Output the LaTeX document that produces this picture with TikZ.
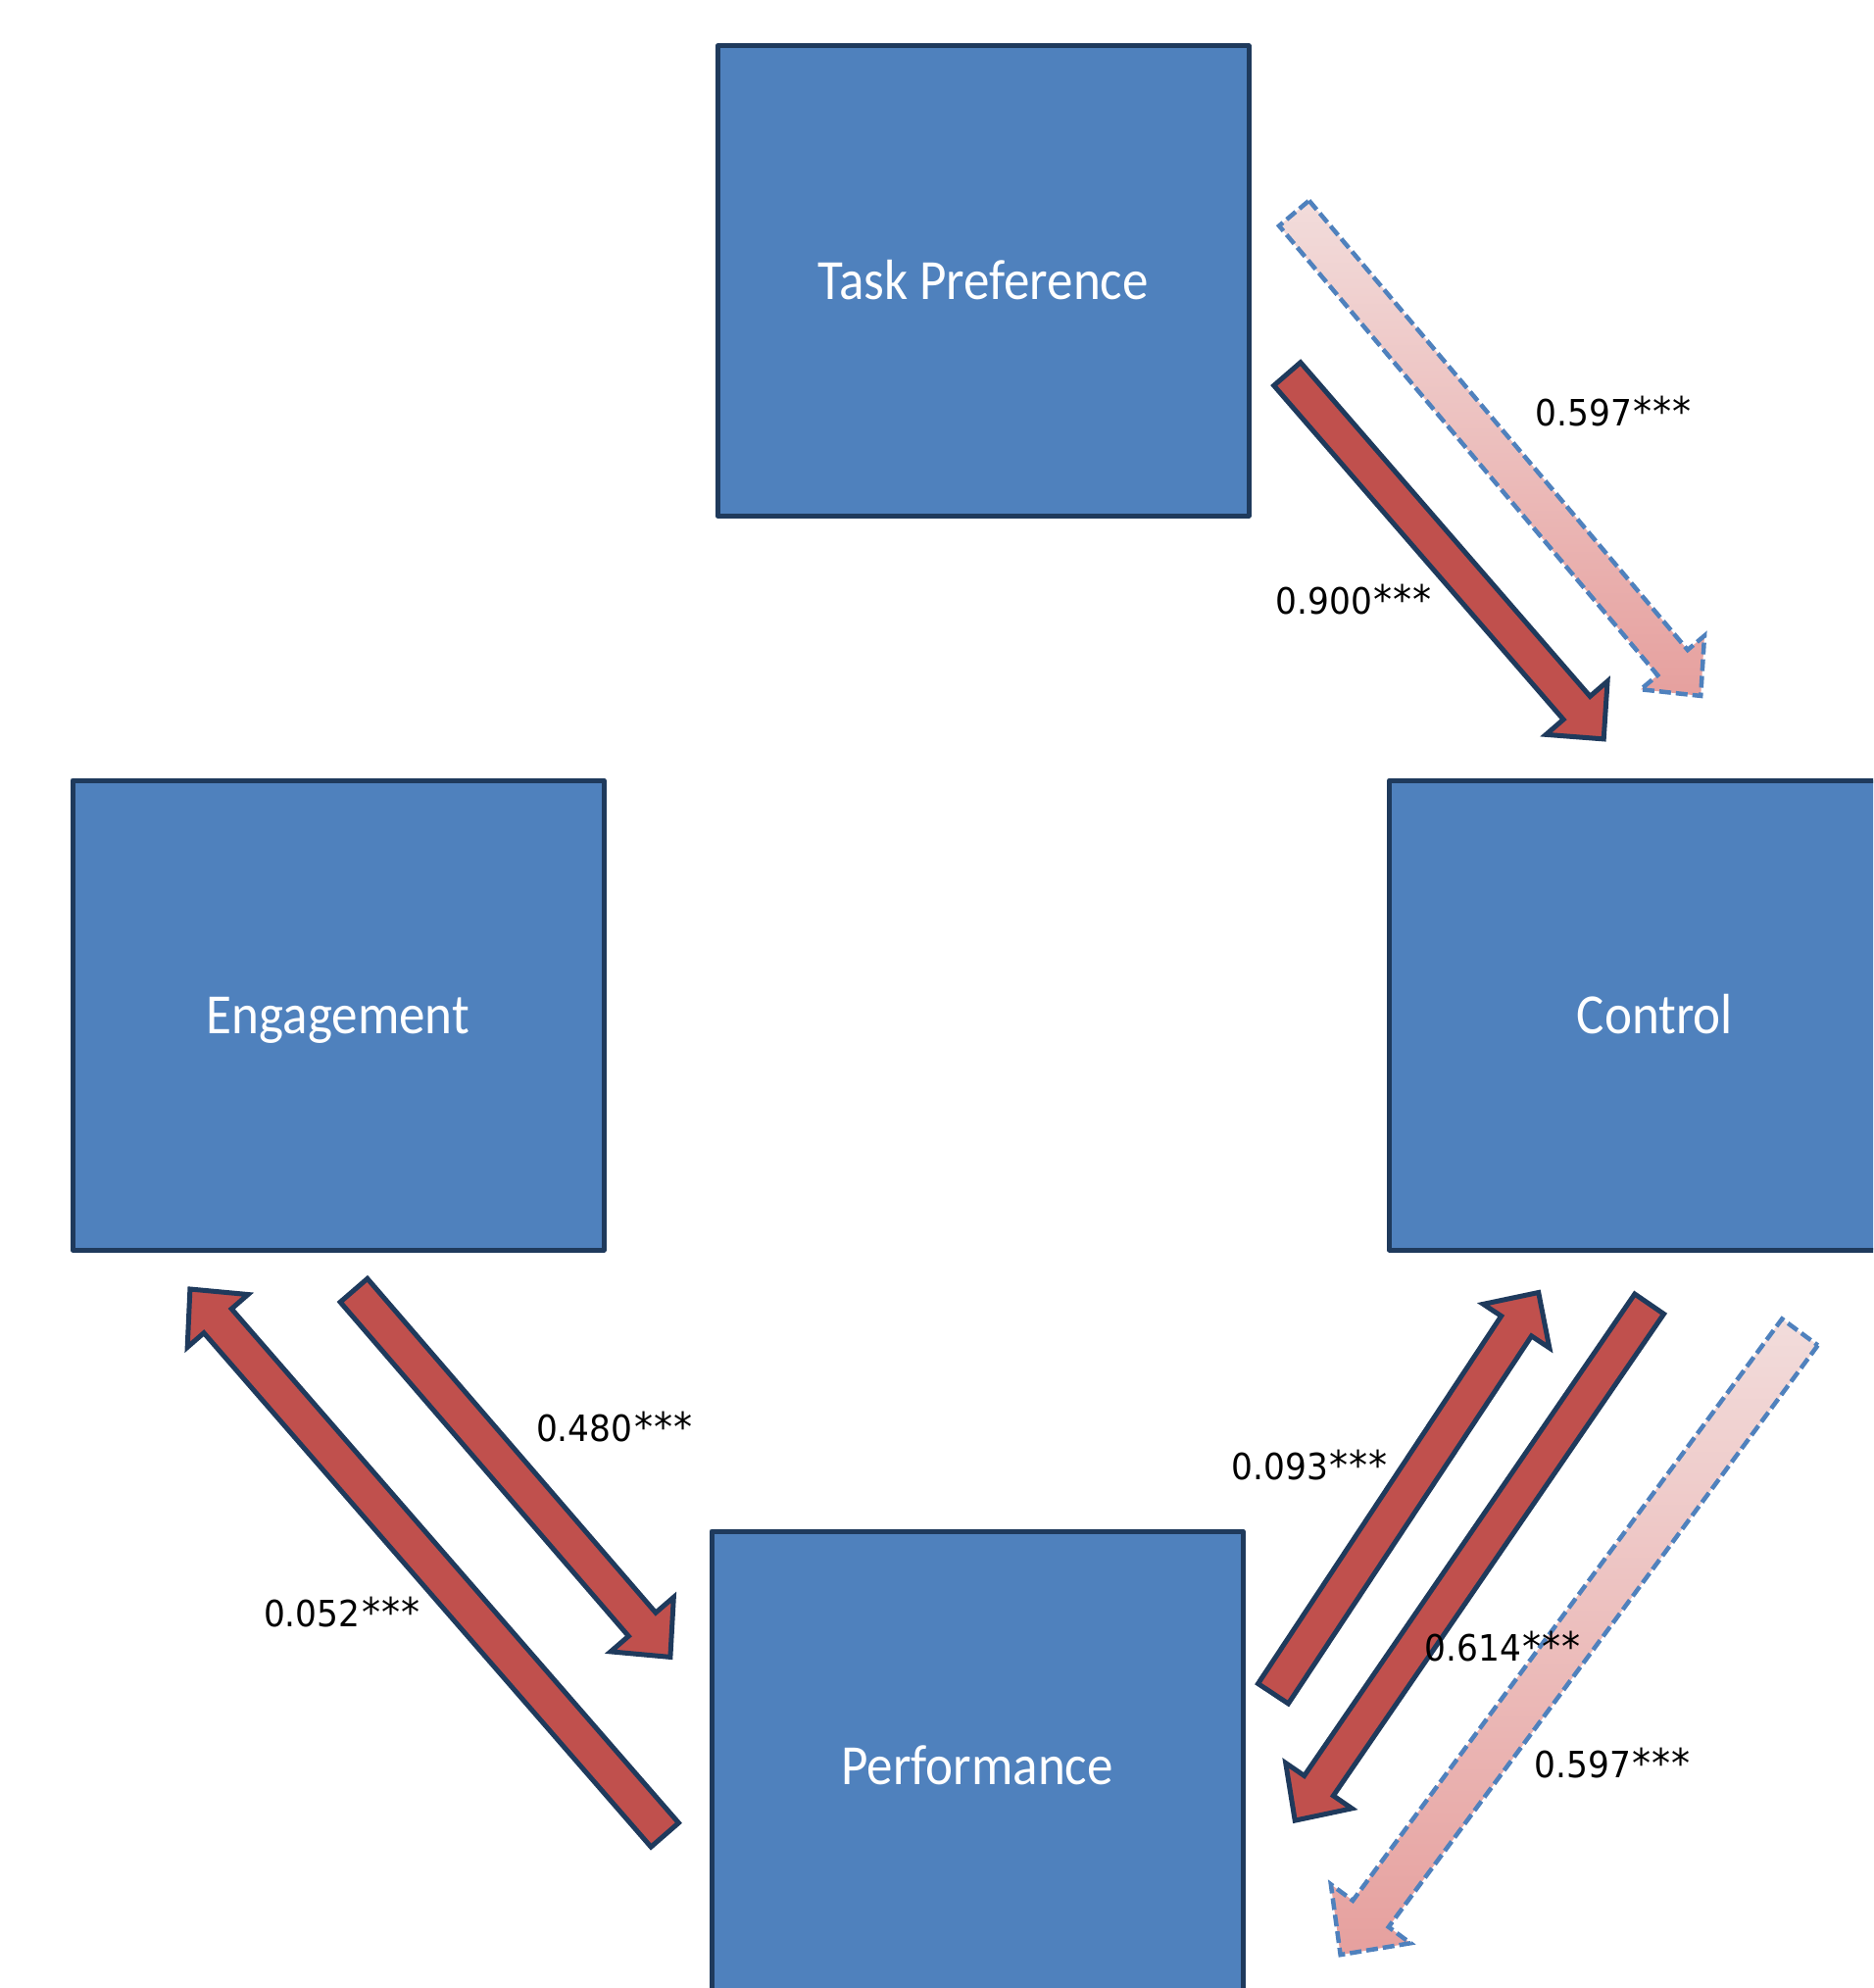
\documentclass[tikz,border=0pt]{standalone}
\usepackage{fontspec}
\usetikzlibrary{calc}
\newfontfamily\boxfont[FakeStretch=0.915]{Carlito}
\newfontfamily\lblfont[FakeStretch=0.93]{DejaVu Sans}
\definecolor{boxblue}{HTML}{4F81BD}
\definecolor{navy}{HTML}{1F3A5C}
\definecolor{arrred}{HTML}{C0504D}
\definecolor{pinkL}{HTML}{F2DCDB}
\definecolor{pinkD}{HTML}{E6A09E}
\definecolor{dashblue}{HTML}{4F81BD}
% #1 style, #2 tail coordinate, #3 tip coordinate, #4 shaft half width, #5 head half width, #6 head length
\newcommand\blockarr[6]{%
  \coordinate (hb) at ($(#3)!#6!(#2)$);
  \path[#1] ($(#2)!#4!90:(#3)$) -- ($(hb)!#4!-90:(#2)$) -- ($(hb)!#5!-90:(#2)$)
    -- (#3) -- ($(hb)!#5!90:(#2)$) -- ($(hb)!#4!90:(#2)$) -- ($(#2)!#4!-90:(#3)$) -- cycle;
}
\newcommand\stars{\kern1.5pt{\fontsize{41}{44}\selectfont *\kern1pt*\kern1pt*}}
\tikzset{
  varbox/.style={draw=navy, line width=5pt, line join=round, fill=boxblue, minimum width=542pt,
    minimum height=479pt, inner sep=0pt, text=white,
    font=\boxfont\fontsize{58}{70}\selectfont, text height=37pt, text depth=0pt},
  solidarr/.style={fill=arrred, draw=navy, line width=5pt, line join=miter},
  dasharr/.style={top color=pinkL, bottom color=pinkD, draw=dashblue, line width=4.5pt,
    dash pattern=on 12pt off 5pt},
  coef/.style={font=\lblfont\fontsize{37}{44}\selectfont, anchor=base, inner sep=0pt},
}
\begin{document}
\begin{tikzpicture}[x=1pt, y=-1pt]
\useasboundingbox (0,0) rectangle (1911,2028);
\clip (0,0) rectangle (1911,2028);

% variable boxes
\node[varbox] (tp)   at (1003,286.5)   {Task Preference};
\node[varbox] (eng)  at (345,1035.5)   {Engagement};
\node[varbox] (ctrl) at (1688.5,1035.5) {Control};
\node[varbox] (perf) at (997,1801.5)   {Performance};

% arrow end points
\coordinate (tpCs)  at (1313.3,381.5);
\coordinate (tpCe)  at (1636.2,753.9);
\coordinate (tpCds) at (1320.3,217.5);
\coordinate (tpCde) at (1735.2,709.9);
\coordinate (engPs) at (361,1316.3);
\coordinate (engPe) at (683.9,1690.4);
\coordinate (perEs) at (678.3,1871.8);
\coordinate (perEe) at (193.9,1315);
\coordinate (perCs) at (1299,1727.7);
\coordinate (perCe) at (1569.7,1318.5);
\coordinate (ctPs)  at (1682.7,1330.2);
\coordinate (ctPe)  at (1321.2,1857.1);
\coordinate (ctPds) at (1836.4,1358.9);
\coordinate (ctPde) at (1367.6,1994.1);

% arrows
\blockarr{dasharr}{tpCds}{tpCde}{20pt}{42.5pt}{44.5pt}
\blockarr{solidarr}{tpCs}{tpCe}{18pt}{41.5pt}{42pt}
\blockarr{solidarr}{engPs}{engPe}{18.3pt}{42.5pt}{44pt}
\blockarr{solidarr}{perEs}{perEe}{18.7pt}{41pt}{43pt}
\blockarr{dasharr}{ctPds}{ctPde}{22.7pt}{50.5pt}{52pt}
\blockarr{solidarr}{perCs}{perCe}{18.5pt}{40.5pt}{41pt}
\blockarr{solidarr}{ctPs}{ctPe}{18pt}{41pt}{43pt}

% coefficients
\node[coef] (l1) at (1646,434.5) {0.597\stars};
\node[coef] (l2) at (1381,626) {0.900\stars};
\node[coef] (l3) at (626.6,1470) {0.480\stars};
\node[coef] (l4) at (348.6,1659.7) {0.052\stars};
\node[coef] (l5) at (1336.4,1509) {0.093\stars};
\node[coef] (l6) at (1533,1694.6) {0.614\stars};
\node[coef] (l7) at (1645,1813) {0.597\stars};
\end{tikzpicture}
\end{document}
